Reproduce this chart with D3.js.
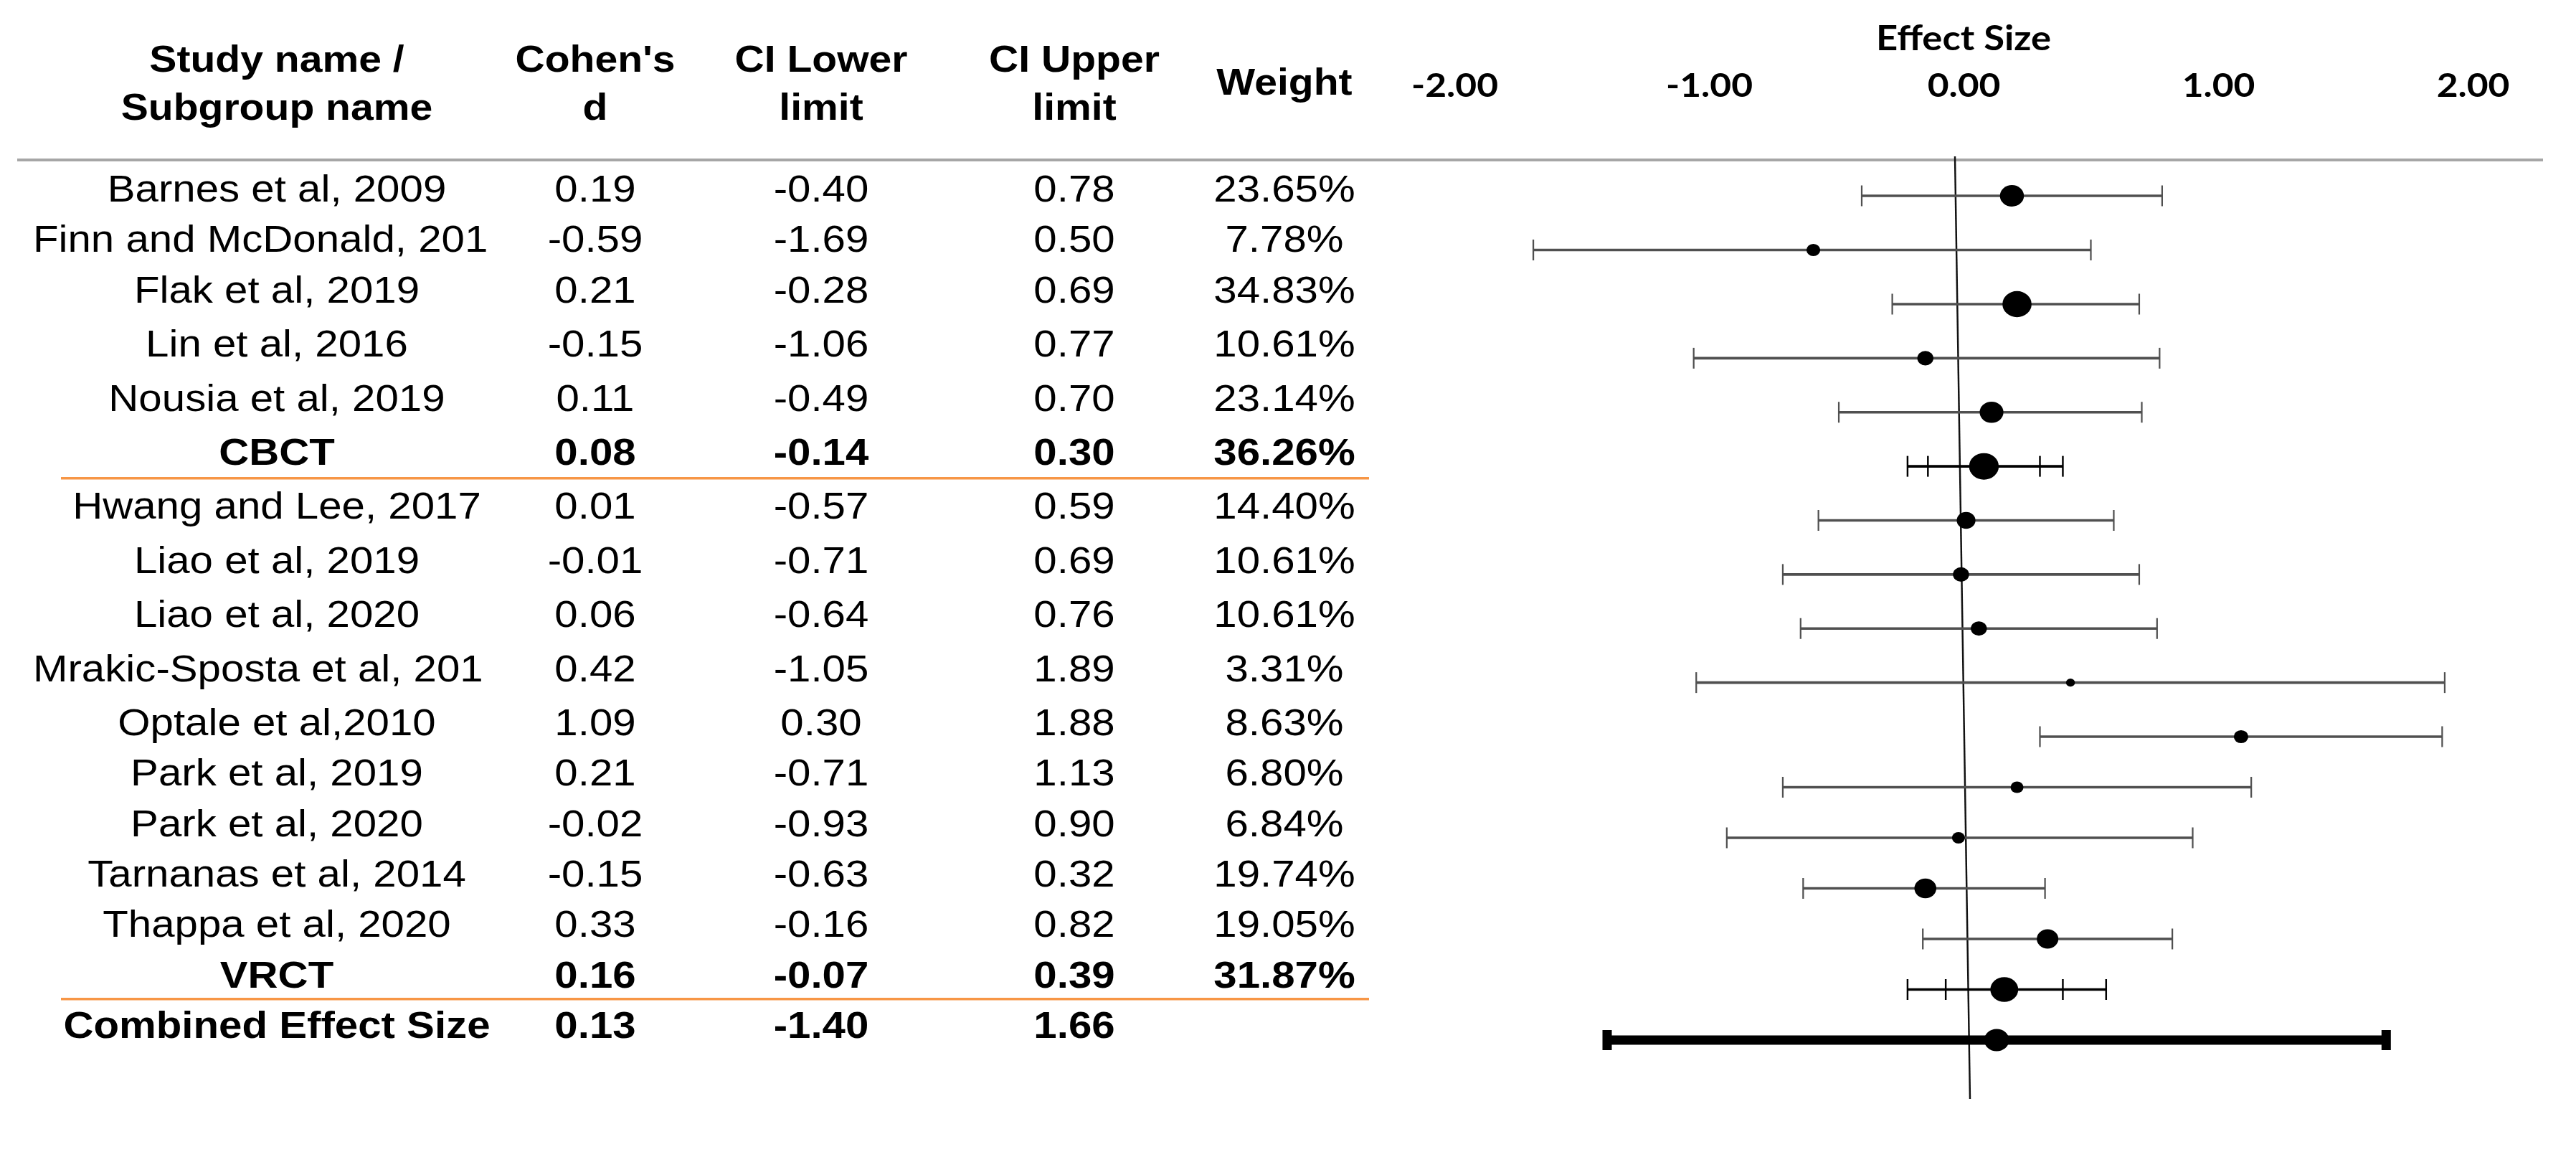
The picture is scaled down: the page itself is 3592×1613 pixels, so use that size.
<!DOCTYPE html>
<meta charset="utf-8">
<style>
    body { margin: 0; background: #fff; }
    .cell { font-family: "Liberation Sans", Arial, sans-serif; font-size: 52px; fill: #000; }
    .head { font-family: "Liberation Sans", Arial, sans-serif; font-size: 51px; font-weight: bold; fill: #000; }
    .axis text { font-family: Lato, sans-serif; font-size: 46px; font-weight: bold; fill: #000; }
</style>
<body></body>
<script src="https://d3js.org/d3.v7.min.js"></script>
<script>
    // table rows, top to bottom
    var studyNames = ["Barnes et al, 2009", "Finn and McDonald, 201", "Flak et al, 2019", "Lin et al, 2016",
        "Nousia et al, 2019", "CBCT", "Hwang and Lee, 2017", "Liao et al, 2019", "Liao et al, 2020",
        "Mrakic-Sposta et al, 201", "Optale et al,2010", "Park et al, 2019", "Park et al, 2020",
        "Tarnanas et al, 2014", "Thappa et al, 2020", "VRCT", "Combined Effect Size"];
    var rowTypes = ["study", "study", "study", "study", "study", "subgroup",
        "study", "study", "study", "study", "study", "study", "study", "study", "study", "subgroup", "combined"];
    var cohensD = [0.19, -0.59, 0.21, -0.15, 0.11, 0.08, 0.01, -0.01, 0.06, 0.42, 1.09, 0.21, -0.02, -0.15, 0.33, 0.16, 0.13];
    var ciLower = [-0.40, -1.69, -0.28, -1.06, -0.49, -0.14, -0.57, -0.71, -0.64, -1.05, 0.30, -0.71, -0.93, -0.63, -0.16, -0.07, -1.40];
    var ciUpper = [0.78, 0.50, 0.69, 0.77, 0.70, 0.30, 0.59, 0.69, 0.76, 1.89, 1.88, 1.13, 0.90, 0.32, 0.82, 0.39, 1.66];
    var weights = [23.65, 7.78, 34.83, 10.61, 23.14, 36.26, 14.40, 10.61, 10.61, 3.31, 8.63, 6.80, 6.84, 19.74, 19.05, 31.87, null];

    // outer whiskers drawn on the subgroup rows
    var subgroupNames = ["CBCT", "VRCT"];
    var subgroupOuterLower = [-0.22, -0.22];
    var subgroupOuterUpper = [0.39, 0.56];

    var tickValues = [-2, -1, 0, 1, 2];
    var tickLabels = ["-2.00", "-1.00", "0.00", "1.00", "2.00"];
    var headLine1 = ["Study name /", "Cohen's", "CI Lower", "CI Upper"];
    var headLine2 = ["Subgroup name", "d", "limit", "limit"];

    // picture is stretched sideways, draw in narrower units and let the viewBox widen it
    var W = 3592, H = 1613, K = 1.12;
    function px(v) { return v / K; }

    var colX = [px(386), px(830), px(1145), px(1498)];
    var weightX = px(1791);

    var svg = d3.select("body").append("svg")
        .attr("width", W)
        .attr("height", H)
        .attr("viewBox", "0 0 " + (W / K) + " " + H)
        .attr("preserveAspectRatio", "none");

    var textY = d3.scaleLinear().domain([0, 2, 10, 16]).range([281, 422, 1025, 1447]);
    var markY = d3.scaleLinear().domain([0, 2, 10, 16]).range([273, 424, 1027, 1450]);
    var xScale = d3.scaleLinear().domain([-2, 2]).range([px(2028), px(3448)]);
    var rScale = d3.scaleSqrt().domain([0, 36.26]).range([0, 18.5]);

    var rows = studyNames.map(function (n, i) {
        return { i: i, name: n, type: rowTypes[i], d: cohensD[i], lo: ciLower[i], hi: ciUpper[i], w: weights[i] };
    });

    // header
    headLine1.forEach(function (t, i) {
        svg.append("text").attr("class", "head").attr("x", colX[i]).attr("y", 100)
            .attr("text-anchor", "middle").text(t);
        svg.append("text").attr("class", "head").attr("x", colX[i]).attr("y", 167)
            .attr("text-anchor", "middle").text(headLine2[i]);
    });
    svg.append("text").attr("class", "head").attr("x", weightX).attr("y", 132)
        .attr("text-anchor", "middle").text("Weight");

    svg.append("text")
        .attr("x", xScale(0)).attr("y", 70)
        .attr("text-anchor", "middle")
        .style("font-family", "Lato, sans-serif").style("font-size", "47px").style("font-weight", "bold")
        .text("Effect Size");

    var axis = svg.append("g")
        .attr("class", "axis")
        .attr("transform", "translate(0,135)")
        .call(d3.axisTop(xScale).tickValues(tickValues).tickSize(0).tickPadding(0)
            .tickFormat(function (d, i) { return tickLabels[i]; }));
    axis.select(".domain").remove();

    // rules
    svg.append("line")
        .attr("x1", px(24)).attr("x2", px(3546)).attr("y1", 223).attr("y2", 223)
        .attr("stroke", "#a6a6a6").attr("stroke-width", 4);

    [[5, 6], [15, 16]].forEach(function (p) {
        var y = (textY(p[0]) + textY(p[1])) / 2 - 19;
        svg.append("line")
            .attr("x1", px(85)).attr("x2", px(1909)).attr("y1", y).attr("y2", y)
            .attr("stroke", "#f79646").attr("stroke-width", 3.5);
    });

    // table cells
    var fmt = d3.format(".2f");
    function num(v) { return fmt(v).replace("\u2212", "-"); }

    rows.forEach(function (r) {
        var y = textY(r.i);
        var bold = r.type !== "study";
        var t = svg.append("text").attr("class", "cell").attr("x", colX[0]).attr("y", y)
            .attr("text-anchor", "middle").style("font-weight", bold ? "bold" : null).text(r.name);
        // names too wide for the column are cut at the right edge
        if (t.node().getComputedTextLength() > 545) {
            t.attr("text-anchor", "start").attr("x", px(46));
        }
        [r.d, r.lo, r.hi].forEach(function (v, j) {
            svg.append("text").attr("class", "cell").attr("x", colX[j + 1]).attr("y", y)
                .attr("text-anchor", "middle").style("font-weight", bold ? "bold" : null).text(num(v));
        });
        if (r.w != null) {
            svg.append("text").attr("class", "cell").attr("x", weightX).attr("y", y)
                .attr("text-anchor", "middle").style("font-weight", bold ? "bold" : null)
                .text(r.w.toFixed(2) + "%");
        }
    });

    // zero line (slightly leaning, as in the original)
    svg.append("line")
        .attr("x1", xScale(0) - px(12)).attr("y1", 218)
        .attr("x2", xScale(0) + px(9)).attr("y2", 1532)
        .attr("stroke", "#111").attr("stroke-width", 2.2);

    var plot = svg.append("g");

    rows.forEach(function (r) {
        var y = markY(r.i);
        var g = plot.append("g");
        if (r.type === "study") {
            g.append("line").attr("x1", xScale(r.lo)).attr("x2", xScale(r.hi)).attr("y1", y).attr("y2", y)
                .attr("stroke", "#505050").attr("stroke-width", 3.6);
            [r.lo, r.hi].forEach(function (v) {
                g.append("line").attr("x1", xScale(v)).attr("x2", xScale(v)).attr("y1", y - 14.5).attr("y2", y + 14.5)
                    .attr("stroke", "#505050").attr("stroke-width", 2);
            });
            g.append("circle").attr("cx", xScale(r.d)).attr("cy", y).attr("r", rScale(r.w)).attr("fill", "#000");
        } else if (r.type === "subgroup") {
            var k = subgroupNames.indexOf(r.name);
            var oLo = subgroupOuterLower[k], oHi = subgroupOuterUpper[k];
            g.append("line").attr("x1", xScale(oLo)).attr("x2", xScale(oHi)).attr("y1", y).attr("y2", y)
                .attr("stroke", "#000").attr("stroke-width", 3.6);
            [oLo, r.lo, r.hi, oHi].forEach(function (v) {
                g.append("line").attr("x1", xScale(v)).attr("x2", xScale(v)).attr("y1", y - 14.5).attr("y2", y + 14.5)
                    .attr("stroke", "#000").attr("stroke-width", 2.2);
            });
            g.append("circle").attr("cx", xScale(r.d)).attr("cy", y).attr("r", rScale(r.w)).attr("fill", "#000");
        } else {
            g.append("line").attr("x1", xScale(r.lo)).attr("x2", xScale(r.hi)).attr("y1", y).attr("y2", y)
                .attr("stroke", "#000").attr("stroke-width", 13);
            [r.lo, r.hi].forEach(function (v) {
                g.append("rect").attr("x", xScale(v) - px(6.5)).attr("width", px(13))
                    .attr("y", y - 14).attr("height", 28).attr("fill", "#000");
            });
            g.append("circle").attr("cx", xScale(r.d)).attr("cy", y).attr("r", 15.5).attr("fill", "#000");
        }
    });
</script>
